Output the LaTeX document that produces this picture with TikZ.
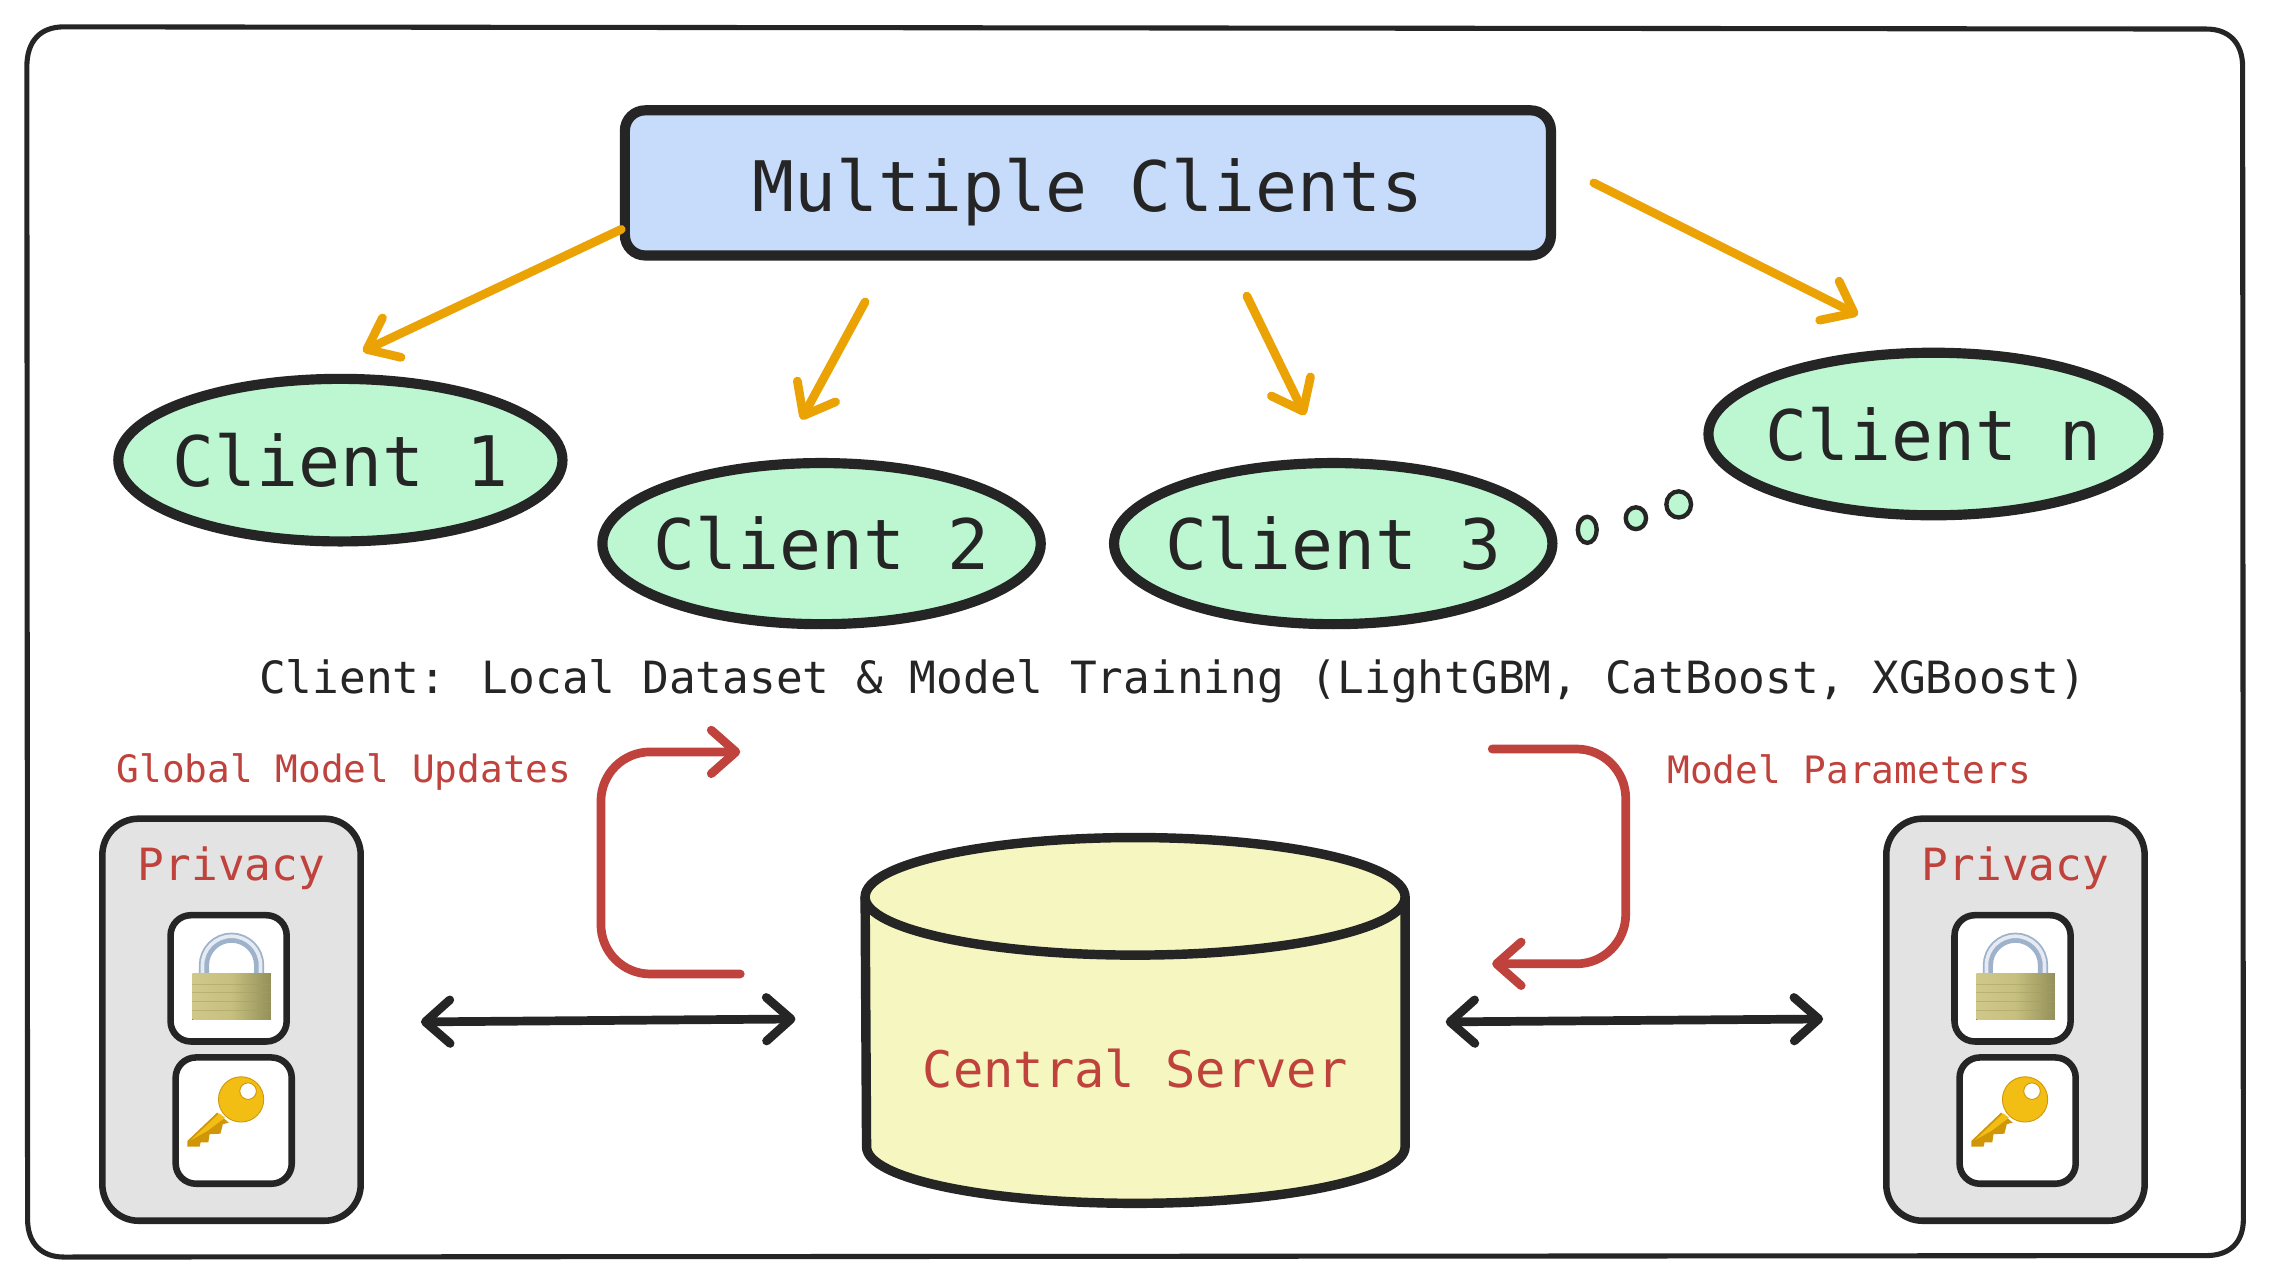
\documentclass[tikz,border=0pt]{standalone}
\usepackage{fontspec}
\setmainfont{DejaVu Sans Mono}
\usetikzlibrary{shapes.geometric,arrows.meta}
\definecolor{ink}{HTML}{252525}
\definecolor{bluefill}{HTML}{C7DBFB}
\definecolor{greenfill}{HTML}{BDF7D1}
\definecolor{yellowfill}{HTML}{F6F7C0}
\definecolor{greyfill}{HTML}{E3E3E3}
\definecolor{orangeline}{HTML}{EAA204}
\definecolor{redline}{HTML}{BF423C}
\definecolor{gold}{HTML}{F2BE14}
\definecolor{golddark}{HTML}{CF9608}
\definecolor{lockleft}{HTML}{CFC88A}
\definecolor{lockmid}{HTML}{C6BF7E}
\definecolor{lockright}{HTML}{949059}
\definecolor{lockline}{HTML}{A39E63}
\definecolor{steel}{HTML}{9FB2CC}
\definecolor{steellight}{HTML}{E6EBF2}
\tikzset{
  clientnode/.style={ellipse,draw=ink,fill=greenfill,line width=7pt,inner xsep=-30pt,inner ysep=-30pt,text=ink,font=\fontsize{48}{58}\selectfont},
  thoughtdot/.style={ellipse,draw=ink,fill=greenfill,line width=3pt,inner sep=0pt},
  headbox/.style={rectangle,rounded corners=14pt,draw=ink,fill=bluefill,line width=7pt,inner sep=0pt,text=ink,text height=40pt,text depth=0pt,font=\fontsize{48}{58}\selectfont},
  panelbox/.style={rectangle,rounded corners=25pt,draw=ink,fill=greyfill,line width=4.5pt,inner sep=0pt},
  iconbox/.style={rectangle,rounded corners=14pt,draw=ink,fill=white,line width=4.5pt,inner sep=0pt},
  redlabel/.style={text=redline,inner sep=0pt,font=\fontsize{26}{32}\selectfont},
  panellabel/.style={text=redline,inner sep=0pt,font=\fontsize{30.6}{36}\selectfont},
  servertext/.style={text=redline,inner sep=0pt,font=\fontsize{34.7}{42}\selectfont},
  caption/.style={text=ink,inner sep=0pt,font=\fontsize{30.6}{36}\selectfont},
  orangearrow/.style={draw=orangeline,line width=6pt,line cap=round,-{Straight Barb[length=19pt,width=30pt,round]}},
  redarrow/.style={draw=redline,line width=6pt,line cap=round,rounded corners=34pt,-{Straight Barb[length=17pt,width=30pt,round]}},
  blackarrow/.style={draw=ink,line width=6pt,line cap=round,{Straight Barb[length=17pt,width=30pt,round]}-{Straight Barb[length=17pt,width=30pt,round]}},
}
\newcommand{\privacypanel}[2]{%
  \begin{scope}[xshift=#2pt]
    \node[panelbox,minimum width=178pt,minimum height=277pt] (#1panel) at (159.5,702.5) {};
    \node[panellabel] (#1label) at (159.5,598) {Privacy};
    \node[iconbox,minimum width=80pt,minimum height=87pt] (#1lockbox) at (157.5,674) {};
    \node[iconbox,minimum width=80pt,minimum height=87pt] (#1keybox) at (161,772) {};
    % padlock
    \draw[line width=7pt,color=steel] (140.5,672) -- (140.5,665) arc[start angle=180,end angle=360,radius=19] -- (178.5,672);
    \draw[line width=2.5pt,color=steellight] (139.5,672) -- (139.5,665) arc[start angle=180,end angle=360,radius=20] -- (179.5,672);
    \fill[left color=lockleft,right color=lockright,middle color=lockmid] (132.5,671) rectangle (186.6,702.5);
    \foreach \yy in {678,684,690,696} \draw[lockline,opacity=.5,line width=.7pt] (132.5,\yy) -- (186.6,\yy);
    % key
    \fill[golddark] (149.6,766.5) -- (129.1,786) -- (129.1,790) -- (137.5,790) -- (138.2,787) -- (143.5,787) -- (144.4,781.4) -- (151.9,781) -- (153.5,774.5) -- (157.6,773.4) -- cycle;
    \fill[gold] (151,767) -- (131.5,785.5) -- (143,779) -- (155,770) -- cycle;
    \fill[gold,even odd rule,draw=golddark,line width=.6pt] (166.1,757.4) circle[radius=15.6] (170.9,751.7) circle[radius=5.7];
  \end{scope}%
}
\begin{document}
\begin{tikzpicture}[x=1pt,y=-1pt]
\useasboundingbox (0,0) rectangle (1568,886.6);
\fill[white] (0,0) rectangle (1568,886.6);
% frame
\draw[ink,line width=3.5pt,line join=round] (44,18.5) -- (1520,20) .. controls (1536,20) and (1545,30) .. (1545,46) -- (1545.5,840) .. controls (1545.5,856) and (1536,865) .. (1520,865) -- (44,866) .. controls (28,866) and (19,856) .. (19,840) -- (18.5,46) .. controls (18.5,28) and (28,18.5) .. (44,18.5) -- cycle;
% header and clients
\node[headbox,minimum width=638pt,minimum height=100pt] (clients) at (749.5,126) {Multiple Clients};
\node[clientnode,minimum width=306pt,minimum height=112pt] (c1) at (234.5,317) {Client 1};
\node[clientnode,minimum width=302pt,minimum height=111pt] (c2) at (566,374.5) {Client 2};
\node[clientnode,minimum width=302pt,minimum height=111pt] (c3) at (918.5,374.5) {Client 3};
\node[clientnode,minimum width=310pt,minimum height=112pt] (cn) at (1332,299) {Client n};
\node[thoughtdot,minimum width=13pt,minimum height=18pt] (d1) at (1093.5,365) {};
\node[thoughtdot,minimum width=14pt,minimum height=15pt] (d2) at (1127,357) {};
\node[thoughtdot,minimum width=17pt,minimum height=18pt] (d3) at (1156.5,347.5) {};
\node[caption] (cap) at (808,469.5) {Client: Local Dataset \& Model Training (LightGBM, CatBoost, XGBoost)};
\node[redlabel] (lglobal) at (237,532) {Global Model Updates};
\node[redlabel] (lparams) at (1274,530) {Model Parameters};
% server
\path[fill=yellowfill] (596,618) -- (596,790) .. controls (596,812) and (680,830) .. (782,830) .. controls (884,830) and (968,812) .. (968,790) -- (968,618) .. controls (968,595) and (884,576) .. (782,576) .. controls (680,576) and (596,595) .. (596,618) -- cycle;
\draw[ink,line width=6.5pt,line join=round] (596,618) -- (597,790) .. controls (597,812) and (680,829) .. (782,829) .. controls (884,829) and (968,812) .. (968,790) -- (968,618);
\draw[ink,line width=6.5pt] (596,618) .. controls (596,595) and (680,577) .. (782,577) .. controls (884,577) and (968,595) .. (968,618) .. controls (968,640) and (884,658) .. (782,658) .. controls (680,658) and (596,640) .. (596,618) -- cycle;
\node[servertext] (server) at (782,736) {Central Server};
% privacy panels
\privacypanel{l}{0}
\privacypanel{r}{1229}
% connector ends
\coordinate (o1s) at (428,158);   \coordinate (o1e) at (250,242);
\coordinate (o2s) at (596,208);   \coordinate (o2e) at (552,289);
\coordinate (o3s) at (859,204);   \coordinate (o3e) at (899,286);
\coordinate (o4s) at (1098,126);  \coordinate (o4e) at (1280,217);
\coordinate (ups) at (510,671);   \coordinate (upm1) at (414,671); \coordinate (upm2) at (414,518); \coordinate (upe) at (510,518);
\coordinate (dns) at (1028,516);  \coordinate (dnm1) at (1120,516); \coordinate (dnm2) at (1120,664); \coordinate (dne) at (1028,664);
\coordinate (bla) at (290,704);   \coordinate (blb) at (548,702);
\coordinate (bra) at (996,704);   \coordinate (brb) at (1256,702);
% connectors
\draw[orangearrow] (o1s) -- (o1e);
\draw[orangearrow] (o2s) -- (o2e);
\draw[orangearrow] (o3s) -- (o3e);
\draw[orangearrow] (o4s) -- (o4e);
\draw[redarrow] (ups) -- (upm1) -- (upm2) -- (upe);
\draw[redarrow] (dns) -- (dnm1) -- (dnm2) -- (dne);
\draw[blackarrow] (bla) -- (blb);
\draw[blackarrow] (bra) -- (brb);
\end{tikzpicture}
\end{document}
